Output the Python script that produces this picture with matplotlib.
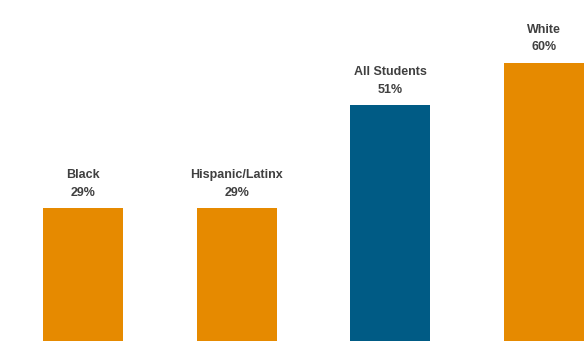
import matplotlib
matplotlib.use('Agg')
import matplotlib.pyplot as plt

groups = ['Black', 'Hispanic/Latinx', 'All Students', 'White']
values = [29, 29, 51, 60]
colors = ['#E68A00', '#E68A00', '#005B85', '#E68A00']

plt.rcParams['font.family'] = ['Liberation Sans', 'DejaVu Sans']

fig = plt.figure(figsize=(5.88, 3.41), dpi=100)
ax = fig.add_axes([0, 0, 1, 1])
x = list(range(len(groups)))
ax.bar(x, values, width=0.52, color=colors)
for xi, g, v in zip(x, groups, values):
    ax.annotate(f'{g}\n{v}%', (xi, v), xytext=(0, 7), textcoords='offset points',
                ha='center', va='bottom', fontsize=9, fontweight='bold',
                color='#404040', linespacing=1.6)
ax.set_xlim(-0.54, 3.286)
ax.set_ylim(0.64, 73.5)
ax.axis('off')
fig.savefig('out.png', dpi=100)
